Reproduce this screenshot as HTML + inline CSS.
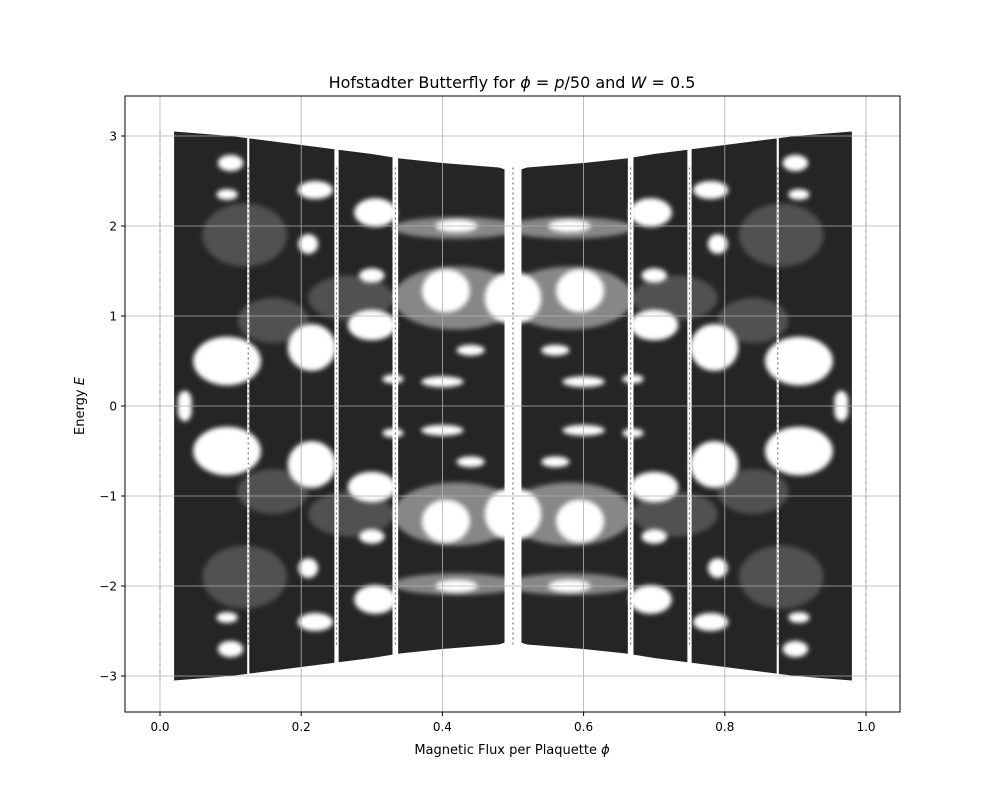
<!DOCTYPE html>
<html><head><meta charset="utf-8"><style>
body{margin:0;background:#fff;}
svg text{font-family:"DejaVu Sans","Liberation Sans",sans-serif;fill:#000;}
</style></head><body>
<svg id="chart" width="1000" height="800" viewBox="0 0 1000 800">
<defs>
<clipPath id="clip"><rect x="125" y="96" width="775" height="616"/></clipPath>
<filter id="soft" x="-30%" y="-30%" width="160%" height="160%"><feGaussianBlur stdDeviation="2.5"/></filter>
</defs>
<rect x="0" y="0" width="1000" height="800" fill="#fff"/>
<g id="marks" clip-path="url(#clip)"></g>
<g id="grid"></g>
<rect x="125" y="96" width="775" height="616" fill="none" stroke="#000" stroke-width="1"/>
<g id="axes"></g>
<text x="512" y="88" font-size="16" text-anchor="middle">Hofstadter Butterfly for <tspan font-style="italic">ϕ</tspan> = <tspan font-style="italic">p</tspan>/50 and <tspan font-style="italic">W</tspan> = 0.5</text>
<text x="512" y="754" font-size="13" text-anchor="middle">Magnetic Flux per Plaquette <tspan font-style="italic">ϕ</tspan></text>
<text x="84" y="406" font-size="13" text-anchor="middle" transform="rotate(-90 84 406)">Energy <tspan font-style="italic">E</tspan></text>
</svg>
<script>
// envelope of the spectrum (upper edge), left half; mirrored in x and E
const envX = [0.02, 0.10, 0.20, 0.30, 0.34, 0.40, 0.48, 0.50];
const envTop = [3.05, 3.00, 2.90, 2.80, 2.75, 2.70, 2.65, 2.60];
// spectral gaps (upper-left quadrant), mirrored to all quadrants
const holeX = [0.095, 0.215, 0.300, 0.305, 0.405, 0.100, 0.095, 0.220, 0.210, 0.300, 0.420, 0.400, 0.440, 0.330, 0.495, 0.035];
const holeE = [0.50, 0.65, 0.90, 2.15, 1.28, 2.70, 2.35, 2.40, 1.80, 1.45, 2.00, 0.27, 0.62, 0.30, 1.20, 0.05];
const holeDX = [0.048, 0.034, 0.034, 0.030, 0.034, 0.018, 0.015, 0.025, 0.014, 0.018, 0.030, 0.030, 0.020, 0.015, 0.035, 0.010];
const holeDE = [0.27, 0.26, 0.17, 0.16, 0.24, 0.09, 0.06, 0.10, 0.11, 0.08, 0.07, 0.06, 0.06, 0.05, 0.28, 0.12];
// sparse (lighter) regions: x centre, E centre, half-widths, density loss
const sparseX = [0.42, 0.42, 0.27, 0.12, 0.16];
const sparseE = [1.20, 1.98, 1.20, 1.90, 0.95];
const sparseDX = [0.09, 0.09, 0.06, 0.06, 0.05];
const sparseDE = [0.35, 0.12, 0.25, 0.35, 0.25];
const sparseLoss = [0.45, 0.45, 0.2, 0.2, 0.2];
// depleted flux columns (rational fluxes)
const gapX = [0.125, 0.25, 1/3, 0.5, 2/3, 0.75, 0.875];
const gapW = [0.0015, 0.003, 0.004, 0.012, 0.004, 0.003, 0.0015];
const xTicks = [0, 0.2, 0.4, 0.6, 0.8, 1.0];
const xTickLabels = ["0.0", "0.2", "0.4", "0.6", "0.8", "1.0"];
const yTicks = [-3, -2, -1, 0, 1, 2, 3];
const yTickLabels = ["\u22123", "\u22122", "\u22121", "0", "1", "2", "3"];

const NS = "http://www.w3.org/2000/svg";
const sx = v => 160 + 706 * v;
const sy = v => 406 - 90 * v;
function mk(tag, attrs, parent){const e=document.createElementNS(NS,tag);for(const k in attrs)e.setAttribute(k,attrs[k]);parent.appendChild(e);return e;}
const marks = document.getElementById('marks');

let pts = [];
for (let i=0;i<envX.length;i++) pts.push([envX[i], envTop[i]]);
for (let i=envX.length-1;i>=0;i--) pts.push([1-envX[i], envTop[i]]);
for (let i=0;i<envX.length;i++) pts.push([1-envX[i], -envTop[i]]);
for (let i=envX.length-1;i>=0;i--) pts.push([envX[i], -envTop[i]]);
const env = mk('polygon',{points:pts.map(p=>sx(p[0]).toFixed(1)+','+sy(p[1]).toFixed(1)).join(' '),fill:'#252525'},marks);



const sparse = mk('g',{filter:'url(#soft)'},marks);


for (let i=0;i<sparseX.length;i++){
  for (const mx of [false,true]) for (const me of [false,true]){
    const x = mx ? 1-sparseX[i] : sparseX[i];
    const e = me ? -sparseE[i] : sparseE[i];
    const el = mk('ellipse',{cx:sx(x),cy:sy(e),rx:706*sparseDX[i],ry:90*sparseDE[i],fill:'#fff','fill-opacity':sparseLoss[i]},sparse);
    
    
  }
}

const holes = mk('g',{filter:'url(#soft)'},marks);


for (let i=0;i<holeX.length;i++){
  for (const mx of [false,true]) for (const me of [false,true]){
    const x = mx ? 1-holeX[i] : holeX[i];
    const e = me ? -holeE[i] : holeE[i];
    const el = mk('ellipse',{cx:sx(x),cy:sy(e),rx:706*holeDX[i],ry:90*holeDE[i],fill:'#fff'},holes);
    
    
  }
}
for (let i=0;i<gapX.length;i++){
  const el = mk('rect',{x:sx(gapX[i]-gapW[i]),y:sy(3.1),width:Math.max(1.5,706*2*gapW[i]),height:90*6.2,fill:'#fff'},marks);
  
  
  const d = mk('line',{x1:sx(gapX[i]),x2:sx(gapX[i]),y1:sy(2.65),y2:sy(-2.65),stroke:'#777','stroke-width':1.2,'stroke-dasharray':'2 3'},marks);
  
  
}
for (const x of [0,1]){
  const d = mk('line',{x1:sx(x),x2:sx(x),y1:sy(3.05),y2:sy(-3.05),stroke:'#999','stroke-width':1.2,'stroke-dasharray':'3 4'},marks);
  
  
}

const grid = document.getElementById('grid'), axes = document.getElementById('axes');
xTicks.forEach((t,i)=>{
  const g = mk('line',{x1:sx(t),x2:sx(t),y1:96,y2:712,stroke:'#b0b0b0','stroke-width':0.8},grid);
  
  
  mk('line',{x1:sx(t),x2:sx(t),y1:712,y2:716,stroke:'#000'},axes);
  const tx = mk('text',{x:sx(t),y:731,'font-size':12,'text-anchor':'middle'},axes);
  tx.textContent = xTickLabels[i];
  
  
});
yTicks.forEach((t,i)=>{
  const g = mk('line',{x1:125,x2:900,y1:sy(t),y2:sy(t),stroke:'#b0b0b0','stroke-width':0.8},grid);
  
  
  mk('line',{x1:121,x2:125,y1:sy(t),y2:sy(t),stroke:'#000'},axes);
  const tx = mk('text',{x:117,y:sy(t)+4.5,'font-size':12,'text-anchor':'end'},axes);
  tx.textContent = yTickLabels[i];
  
  
});
</script>
</body></html>
